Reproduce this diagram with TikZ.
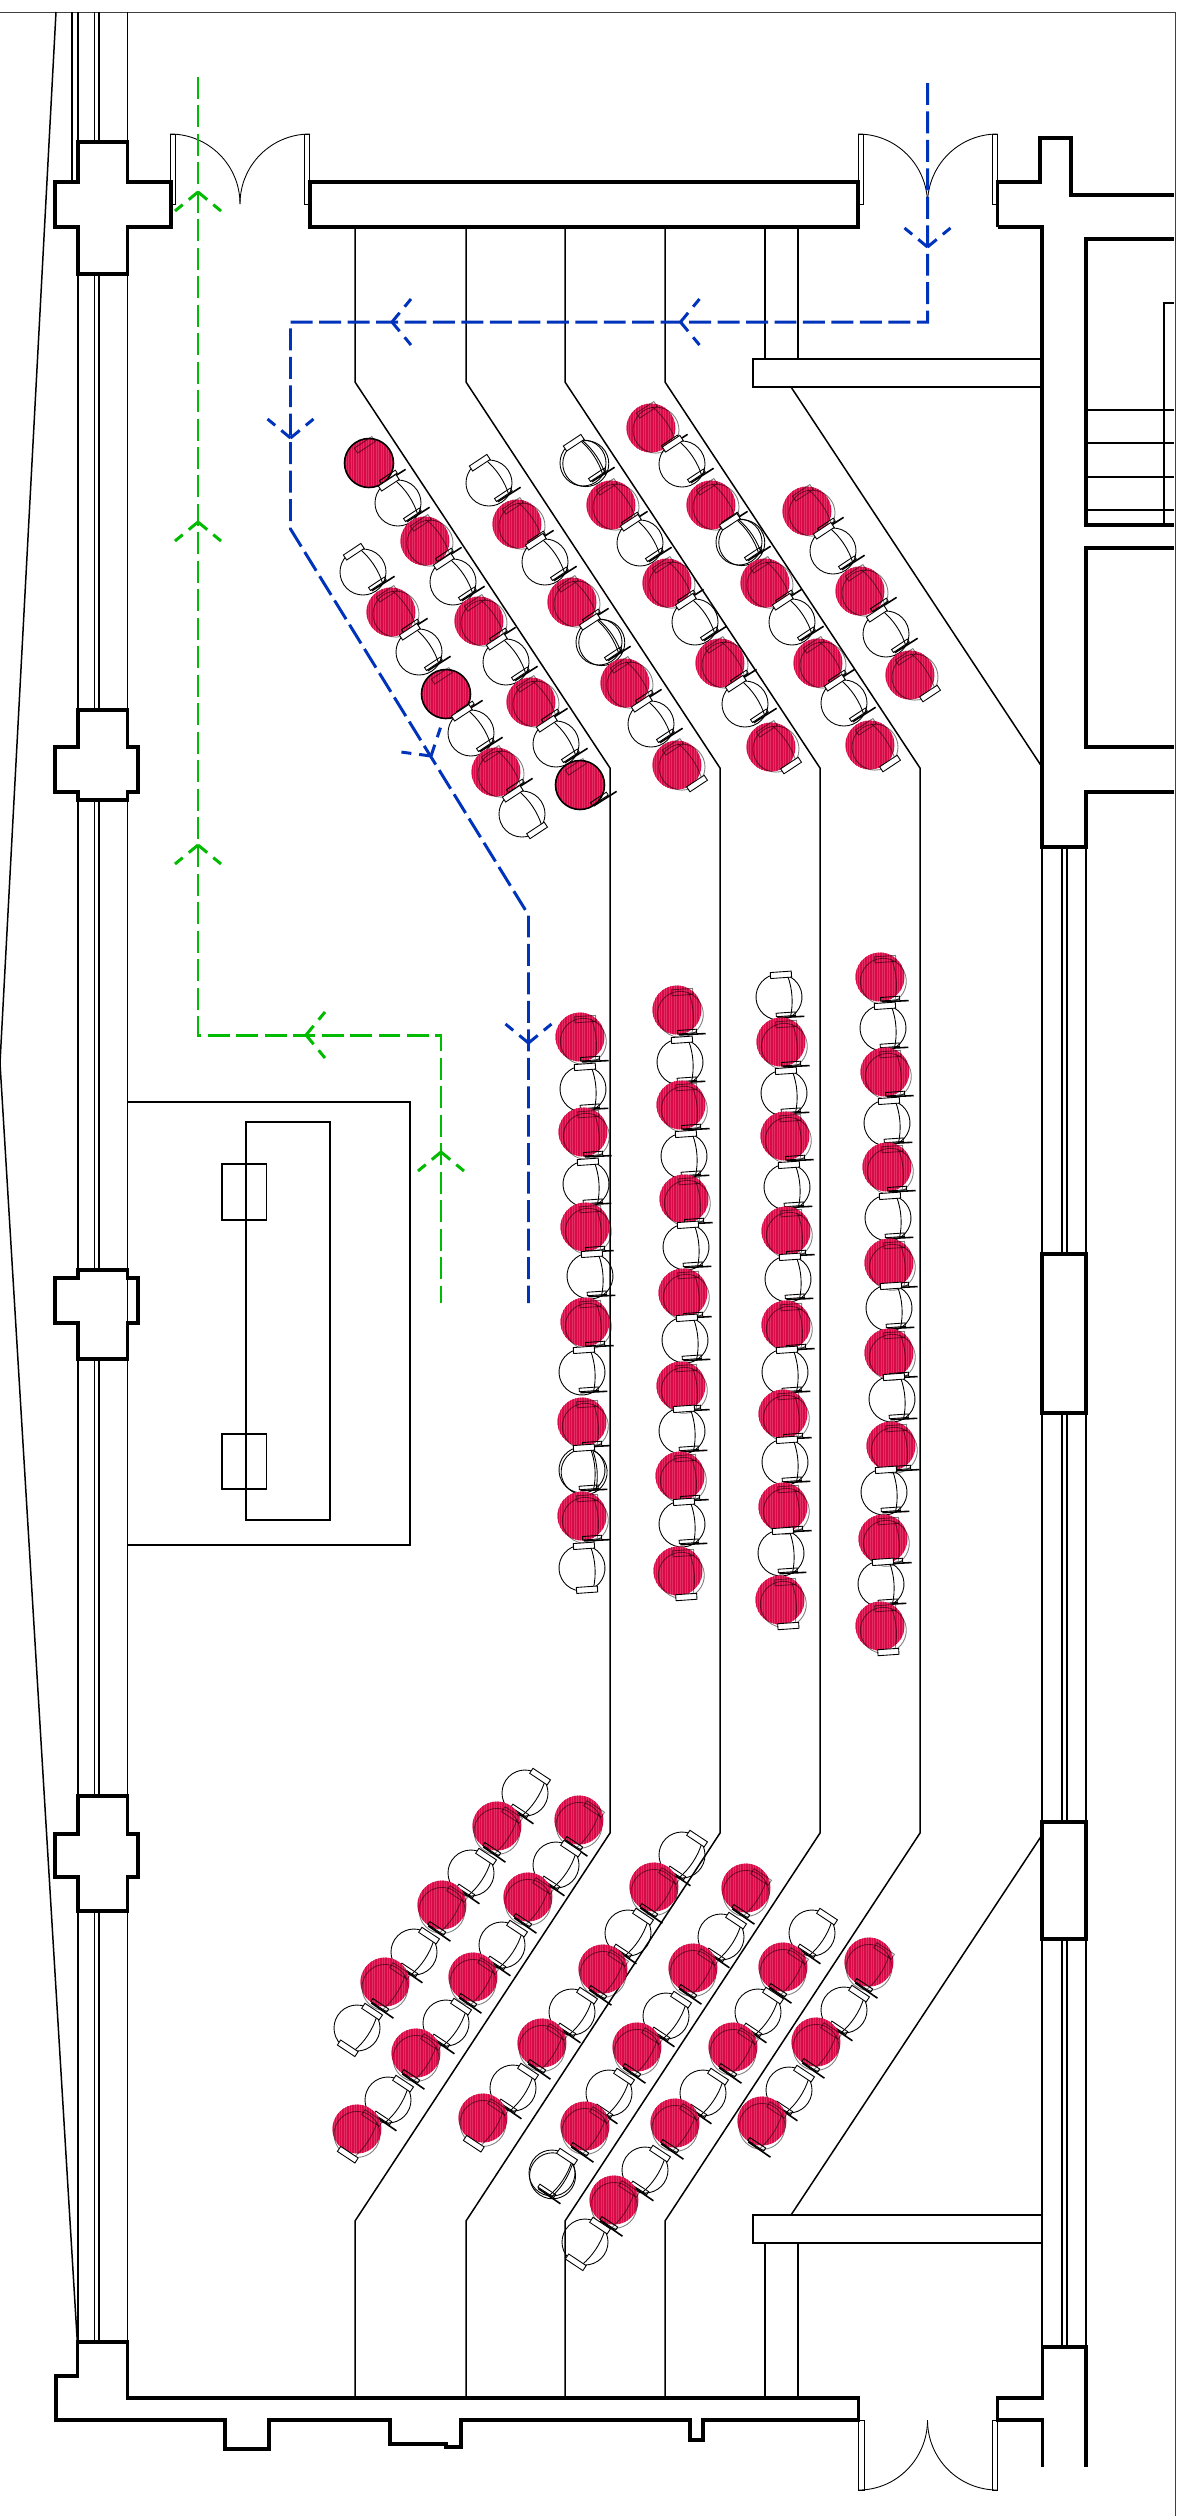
\documentclass[tikz,border=0pt]{standalone}
\usepackage{tikz}
\definecolor{seatRed}{HTML}{E33064}
\definecolor{seatHatch}{HTML}{D80A48}
\definecolor{flowBlue}{HTML}{0033BB}
\definecolor{flowGreen}{HTML}{00BB00}
\newcommand{\chairBody}{
    \draw[seatLine] (0,0) circle[radius=23];
    \draw[seatLine] (10,-21) .. controls (14,-7) and (14,7) .. (10,21);
}
\newcommand{\chairBack}[1]{
    \draw[seatLine,#1] (-7,-25) rectangle (14,-19);
}
\newcommand{\chairFront}{
    \draw[seatLine] (-4,16) rectangle (15,19.5);
    \draw[seatLine, line width=0.9pt] (-3,20.5) -- (24,21);
}
\newcommand{\chairEnd}{
    \draw[seatLine,fill=white] (-7,25) rectangle (14,19);
}
\newcommand{\redDisc}{
    \fill[seatRed] (0,0) circle[radius=24.5];
    \begin{scope}
        \clip (0,0) circle[radius=24.5];
        \foreach \h in {-24,-21.5,...,24}
            \draw[seatHatch, line width=0.7pt, rotate=-\seatRot] (\h,-28) -- (\h,28);
    \end{scope}
}
\begin{document}
\begin{tikzpicture}[x=0.02cm, y=-0.02cm]
    % Set primary styles
    \tikzset{
        wallLine/.style={
                draw,
                line width=1.9pt,
                line join=miter
            }
    }
    \tikzset{
        thinLine/.style={
                draw,
                line width=0.85pt
            }
    }
    \tikzset{
        frameLine/.style={
                draw=black!75,
                line width=0.5pt
            }
    }
    \tikzset{
        seatLine/.style={
                draw=black,
                line width=0.5pt
            }
    }
    \tikzset{
        flowLine/.style={
                line width=1.7pt,
                dash pattern=on 12.5pt off 3.7pt
            }
    }
    \tikzset{
        flowArm/.style={
                line width=1.7pt,
                dash pattern=on 6.8pt off 4.5pt on 6.2pt off 20pt
            }
    }
    \tikzset{
        flowTip/.pic={
                \draw[flowArm, pic actions] (0,0) -- (-19,23);
                \draw[flowArm, pic actions] (0,0) -- (-19,-23);
            }
    }
    % Seats
    \tikzset{
        wSeat/.pic={\chairBody \chairBack{fill=white} \chairFront},
        wEnd/.pic={\chairBody \chairBack{fill=white} \chairEnd},
        wTwin/.pic={\chairBody \begin{scope}[shift={(2,2)}] \chairBody \end{scope} \chairBack{fill=white} \chairFront},
        rSeat/.pic={\redDisc \begin{scope}[shift={(3,4.5)}] \begin{scope}[opacity=0.5] \chairBody \chairBack{} \end{scope} \chairFront \end{scope}},
        rRing/.pic={\redDisc \draw[seatLine, line width=0.9pt] (0,0) circle[radius=24.5]; \begin{scope}[shift={(3,4.5)}] \begin{scope}[opacity=0.5] \chairBack{} \end{scope} \chairFront \end{scope}},
        rEnd/.pic={\redDisc \begin{scope}[shift={(3,4.5)}] \begin{scope}[opacity=0.5] \chairBody \chairBack{} \end{scope} \chairEnd \end{scope}}
    }
    \useasboundingbox (0,0) rectangle (1182,2516);
    % Frame and outer line
    \draw[frameLine] (0,12) -- (1175,12) -- (1175,2516);
    \draw[thinLine] (56,12) -- (0,1063) -- (77.5,2345);
    % Left wall
    \draw[thinLine] (72,12) -- (72,182);
    \foreach \x in {78,94.5,99,127.5} {
            \draw[thinLine] (\x,12) -- (\x,142);
            \draw[thinLine] (\x,274) -- (\x,710);
            \draw[thinLine] (\x,800) -- (\x,1270);
            \draw[thinLine] (\x,1359) -- (\x,1796);
            \draw[thinLine] (\x,1911) -- (\x,2342);
        }
    \draw[wallLine] (55,182) -- (78,182) -- (78,142) -- (127.5,142) -- (127.5,182) -- (171,182) -- (171,227) -- (127.5,227) -- (127.5,274) -- (78,274) -- (78,227) -- (55,227) -- cycle;
    \draw[wallLine] (55,747) -- (78,747) -- (78,710) -- (127.5,710) -- (127.5,747) -- (138,747) -- (138,792) -- (127.5,792) -- (127.5,800) -- (78,800) -- (78,792) -- (55,792) -- cycle;
    \draw[wallLine] (55,1278) -- (78,1278) -- (78,1270) -- (127.5,1270) -- (127.5,1278) -- (138,1278) -- (138,1323) -- (127.5,1323) -- (127.5,1359) -- (78,1359) -- (78,1323) -- (55,1323) -- cycle;
    \draw[wallLine] (55,1834) -- (78,1834) -- (78,1796) -- (127.5,1796) -- (127.5,1834) -- (138,1834) -- (138,1877) -- (127.5,1877) -- (127.5,1911) -- (78,1911) -- (78,1877) -- (55,1877) -- cycle;
    % Front and rear walls
    \draw[wallLine] (310,182) rectangle (858,227);
    \draw[wallLine] (997.5,227) -- (997.5,182) -- (1040,182) -- (1040,138) -- (1071,138) -- (1071,195) -- (1174,195);
    \draw[wallLine] (997.5,227) -- (1042,227) -- (1042,847) -- (1086,847) -- (1086,792) -- (1174,792);
    \draw[wallLine] (77.5,2376) -- (77.5,2342) -- (127.5,2342) -- (127.5,2398) -- (858.5,2398) -- (858.5,2420) -- (703,2420) -- (703,2440) -- (690,2440) -- (690,2420) -- (461,2420) -- (461,2447) -- (446,2447) -- (446,2444) -- (390,2444) -- (390,2420) -- (269,2420) -- (269,2449) -- (225,2449) -- (225,2420) -- (56,2420) -- (56,2376) -- cycle;
    \draw[wallLine] (1042.5,2467) -- (1042.5,2420) -- (997.5,2420) -- (997.5,2398) -- (1042.5,2398) -- (1042.5,2347) -- (1086,2347) -- (1086,2467);
    % Right wall and side rooms
    \foreach \x in {1042,1062,1067,1086} {
            \draw[thinLine] (\x,847) -- (\x,1254);
            \draw[thinLine] (\x,1413) -- (\x,1822);
            \draw[thinLine] (\x,1939) -- (\x,2347);
        }
    \draw[wallLine] (1042,1254) rectangle (1086,1413);
    \draw[wallLine] (1042,1822) rectangle (1086,1939);
    \draw[wallLine] (1174,239) -- (1086,239) -- (1086,525) -- (1174,525);
    \draw[wallLine] (1174,548) -- (1086,548) -- (1086,747) -- (1174,747);
    \draw[thinLine] (1174,303) -- (1164,303) -- (1164,525);
    \foreach \y in {410,443,477,510} {
            \draw[thinLine] (1086,\y) -- (1174,\y);
        }
    % Doors
    \foreach \x in {170,304,858,992} {
            \draw[seatLine] (\x,134) rectangle ++(5.5,70);
        }
    \foreach \x in {858.5,992} {
            \draw[seatLine] (\x,2420) rectangle ++(5.5,70);
        }
    \draw[seatLine] (170,134) to[out=0,in=90] (240,204);
    \draw[seatLine] (310,134) to[out=180,in=90] (240,204);
    \draw[seatLine] (858,134) to[out=0,in=90] (927.5,204);
    \draw[seatLine] (997.5,134) to[out=180,in=90] (927.5,204);
    \draw[seatLine] (858.5,2490) to[out=0,in=-90] (927.5,2420);
    \draw[seatLine] (997.5,2490) to[out=180,in=-90] (927.5,2420);
    % Balconies
    \draw[thinLine] (753,359) rectangle (1042,387);
    \draw[thinLine] (753,2215) rectangle (1042,2243);
    \draw[thinLine] (765,227) -- (765,359);
    \draw[thinLine] (798,227) -- (798,359);
    \draw[thinLine] (765,2243) -- (765,2398);
    \draw[thinLine] (798,2243) -- (798,2398);
    \draw[thinLine] (791,387) -- (1042,767);
    \draw[thinLine] (791,2215) -- (1042,1835);
    % Aisle steps
    \draw[thinLine] (355,227) -- (355,382) -- (610,768) -- (610,1833) -- (355,2221) -- (355,2398);
    \draw[thinLine] (466,227) -- (466,382) -- (720,768) -- (720,1833) -- (466,2221) -- (466,2398);
    \draw[thinLine] (565,227) -- (565,382) -- (820,768) -- (820,1833) -- (565,2221) -- (565,2398);
    \draw[thinLine] (665,227) -- (665,382) -- (920,768) -- (920,1833) -- (665,2221) -- (665,2398);
    % Stage
    \draw[thinLine] (127.5,1102) rectangle (410,1545);
    \draw[thinLine] (246,1122) rectangle (330,1520);
    \draw[thinLine] (222,1164) rectangle (266.5,1220);
    \draw[thinLine] (222,1434) rectangle (266.5,1489);
    % Upper block of seats
    \def\seatRot{33.5}
    \foreach \x/\y/\k in {
            369/463/rRing, 398/503/wSeat, 425/541/rSeat, 453/582/wSeat, 479/621/rSeat, 506/662/wSeat, 531/702/rSeat, 556/744/wSeat, 580/785/rRing,
            363/572/wSeat, 391/612/rSeat, 419/652/wSeat, 446/694/rRing, 471/733/wSeat, 496/772/rSeat, 522/814/wEnd,
            489/483/wSeat, 517/524/rSeat, 545/562/wSeat, 572/602/rSeat, 599/642/wTwin, 625/683/rSeat, 651/724/wSeat, 677/765/rEnd,
            583/463/wTwin, 611/505/rSeat, 640/543/wSeat, 667/583/rSeat, 695/622/wSeat, 720/663/rSeat, 745/704/wSeat, 771/747/rEnd,
            651/428/rSeat, 682/464/wSeat, 711/505/rSeat, 739/542/wTwin, 765/583/rSeat, 792/622/wSeat, 818/663/rSeat, 844/703/wSeat, 870/745/rEnd,
            807/511/rSeat, 833/551/wSeat, 860/591/rSeat, 886/634/wSeat, 910/675/rEnd} {
            \pic[rotate=\seatRot] at (\x,\y) {\k};
        }
    % Middle block of seats
    \def\seatRot{4}
    \foreach \x/\y/\k in {
            580/1037/rSeat, 583/1089/wSeat, 583/1132/rSeat, 586/1184/wSeat, 585/1227/rSeat, 590/1276/wSeat, 585/1322/rSeat, 582/1372/wSeat, 582/1422/rSeat, 582/1470/wTwin, 582/1516/rSeat, 582/1568/wEnd,
            677/1010/rSeat, 680/1062/wSeat, 681/1105/rSeat, 684/1156/wSeat, 684/1199/rSeat, 686/1247/wSeat, 683/1293/rSeat, 685/1340/wSeat, 681/1386/rSeat, 682/1431/wSeat, 680/1476/rSeat, 682/1524/wSeat, 678/1571/rEnd,
            779/997/wSeat, 781/1042/rSeat, 784/1093/wSeat, 785/1136/rSeat, 787/1187/wSeat, 786/1231/rSeat, 788/1279/wSeat, 786/1325/rSeat, 785/1372/wSeat, 783/1414/rSeat, 785/1462/wSeat, 783/1507/rSeat, 781/1553/wSeat, 780/1600/rEnd,
            880/977/rSeat, 883/1028/wSeat, 885/1072/rSeat, 887/1123/wSeat, 887/1167/rSeat, 888/1218/wSeat, 889/1263/rSeat, 889/1308/wSeat, 889/1353/rSeat, 892/1399/wSeat, 891/1446/rSeat, 884/1492/wSeat, 883/1539/rSeat, 881/1584/wSeat, 880/1626/rEnd} {
            \pic[rotate=\seatRot] at (\x,\y) {\k};
        }
    % Lower block of seats
    \def\seatRot{-33.5}
    \foreach \x/\y/\k in {
            525/1793/wSeat, 497/1826/rSeat, 471/1873/wSeat, 442/1905/rSeat, 414/1952/wSeat, 385/1982/rSeat, 357/2028/wEnd,
            579/1820/rSeat, 556/1865/wSeat, 528/1897/rSeat, 502/1945/wSeat, 473/1977/rSeat, 446/2023/wSeat, 416/2053/rSeat, 388/2100/wSeat, 357/2129/rEnd,
            682/1855/wSeat, 654/1887/rSeat, 628/1933/wSeat, 603/1969/rSeat, 572/2012/wSeat, 542/2043/rSeat, 513/2088/wSeat, 483/2118/rEnd,
            746/1888/rSeat, 721/1937/wSeat, 693/1968/rSeat, 666/2016/wSeat, 637/2047/rSeat, 609/2093/wSeat, 585/2126/rSeat, 552/2173/wTwin,
            812/1933/wSeat, 783/1967/rSeat, 758/2012/wSeat, 733/2047/rSeat, 703/2093/wSeat, 675/2123/rSeat, 645/2170/wSeat, 614/2200/rSeat, 585/2242/wEnd,
            869/1962/rSeat, 844/2010/wSeat, 816/2042/rSeat, 789/2090/wSeat, 762/2121/rSeat} {
            \pic[rotate=\seatRot] at (\x,\y) {\k};
        }
    % Flow lines
    \draw[flowLine, flowGreen] (198,77) -- (198,1035) -- (441,1035) -- (441,1303);
    \draw[flowLine, flowBlue] (927.5,83) -- (927.5,322) -- (290.5,322) -- (290.5,529) -- (528.5,915) -- (528.5,1303);
    \pic[draw=flowGreen, rotate=90] at (198,192) {flowTip};
    \pic[draw=flowGreen, rotate=90] at (198,522) {flowTip};
    \pic[draw=flowGreen, rotate=90] at (198,845) {flowTip};
    \pic[draw=flowGreen, rotate=180] at (306,1035) {flowTip};
    \pic[draw=flowGreen, rotate=90] at (441,1152) {flowTip};
    \pic[draw=flowBlue, rotate=-90] at (927.5,247) {flowTip};
    \pic[draw=flowBlue, rotate=180] at (680.5,322) {flowTip};
    \pic[draw=flowBlue, rotate=180] at (392,322) {flowTip};
    \pic[draw=flowBlue, rotate=-90] at (290.5,438) {flowTip};
    \pic[draw=flowBlue, rotate=-58] at (431,756) {flowTip};
    \pic[draw=flowBlue, rotate=-90] at (528.5,1043) {flowTip};
\end{tikzpicture}
\end{document}
